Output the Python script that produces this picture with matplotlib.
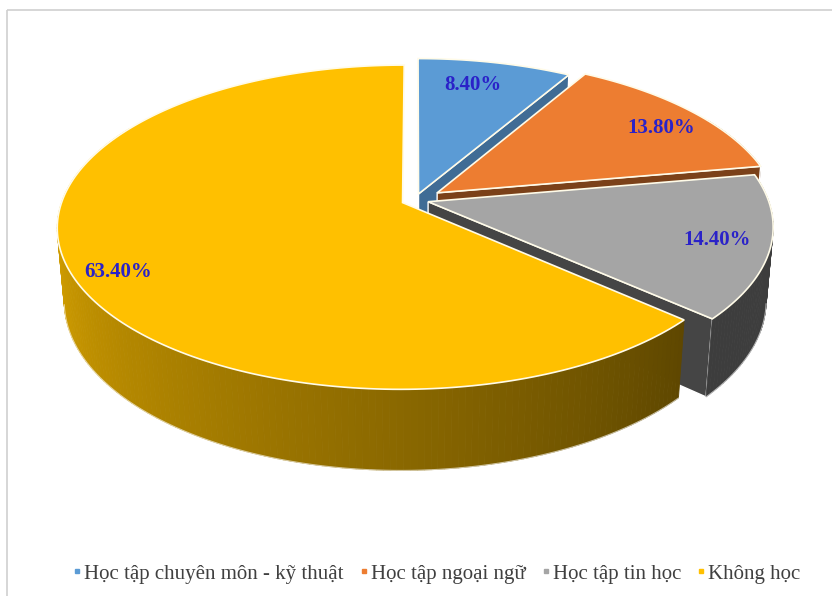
import numpy as np
import matplotlib.pyplot as plt
from matplotlib.patches import Polygon, Rectangle
from matplotlib.lines import Line2D
from matplotlib.colors import to_rgb

plt.rcParams['font.family'] = ['Liberation Serif', 'DejaVu Serif']

labels = ['Học tập chuyên môn - kỹ thuật', 'Học tập ngoại ngữ', 'Học tập tin học', 'Không học']
values = [8.4, 13.8, 14.4, 63.4]
colors = ['#5b9bd5', '#ed7d31', '#a5a5a5', '#ffc000']
explode = [0.04, 0.08, 0.04, 0.04]

# 3d look of the pie
cx, cy = 415, 200
tilt = np.radians(27.6)
dist = 5.85
focal = 1990
thick = 0.245
cut_shade = [0.70, 0.52, 0.42, 0.50]
label_r = [0.80, 0.84, 0.85, 0.88]
label_turn = [-2, 2.5, 0, -3.5]


def project(X, Y, Z):
    yc = Z * np.cos(tilt) + Y * np.sin(tilt)
    zc = dist + Y * np.cos(tilt) - Z * np.sin(tilt)
    return cx + focal * X / zc, cy - focal * yc / zc


def depth(X, Y, Z):
    return np.mean(Y * np.cos(tilt) - Z * np.sin(tilt))


def shade(c, f):
    r, g, b = to_rgb(c)
    return (r * f, g * f, b * f)


def side_factor(deg):
    # lighter on the left, darker towards the right front
    return min(0.88, max(0.37, 0.37 + (deg - 131.76) / 138.24 * 0.49))


fig = plt.figure(figsize=(8.32, 5.96), dpi=100)
ax = fig.add_axes([0, 0, 1, 1])
ax.set_xlim(0, 832)
ax.set_ylim(596, 0)
ax.axis('off')

ax.add_patch(Rectangle((7, 10), 900, 700, fill=False, edgecolor='#d0d0d0', lw=1.2))

total = sum(values)
edges = np.concatenate([[0], np.cumsum(values)]) / total * 360

walls = []
tops = []
for i in range(len(values)):
    a1, a2 = edges[i], edges[i + 1]
    mid = np.radians((a1 + a2) / 2)
    ox, oy = explode[i] * np.sin(mid), explode[i] * np.cos(mid)
    t1, t2 = np.radians(a1), np.radians(a2)

    # top face
    th = np.linspace(t1, t2, 200)
    X = np.concatenate([[ox], ox + np.sin(th)])
    Y = np.concatenate([[oy], oy + np.cos(th)])
    u, v = project(X, Y, np.zeros_like(X))
    tops.append((np.column_stack([u, v]), colors[i]))

    # outer wall, the back part ends up hidden under the top faces
    lo, hi = max(a1, 60), min(a2, 300)
    if hi > lo:
        steps = np.linspace(lo, hi, int(hi - lo) + 2)
        near = 10.0
        for d1, d2 in zip(steps[:-1], steps[1:]):
            tt = np.radians([d1, d2, d2, d1])
            X = ox + np.sin(tt)
            Y = oy + np.cos(tt)
            Z = np.array([0, 0, -thick, -thick])
            u, v = project(X, Y, Z)
            f = side_factor((d1 + d2) / 2)
            dd = depth(X, Y, Z)
            near = min(near, dd)
            walls.append((dd, np.column_stack([u, v]), shade(colors[i], f), None))
        # light rim along the bottom edge
        lo2, hi2 = max(a1, 100), min(a2, 260)
        if hi2 > lo2:
            tt = np.radians(np.linspace(lo2, hi2, 100))
            u, v = project(ox + np.sin(tt), oy + np.cos(tt), -thick * np.ones_like(tt))
            walls.append((near - 0.01, np.column_stack([u, v]), None, 'line'))

    # cut faces
    for t, show in ((t1, np.sin(t1) < -1e-6), (t2, np.sin(t2) > 1e-6)):
        if not show:
            continue
        X = np.array([ox, ox + np.sin(t), ox + np.sin(t), ox])
        Y = np.array([oy, oy + np.cos(t), oy + np.cos(t), oy])
        Z = np.array([0, 0, -thick, -thick])
        u, v = project(X, Y, Z)
        walls.append((depth(X, Y, Z), np.column_stack([u, v]), shade(colors[i], cut_shade[i]), 'white'))

# far walls first
walls.sort(key=lambda w: -w[0])
for d, pts, fc, ec in walls:
    if ec is None:
        ax.add_patch(Polygon(pts, closed=True, facecolor=fc, edgecolor=fc, lw=0.6))
    elif ec == 'line':
        ax.plot(pts[:, 0], pts[:, 1], color='white', lw=0.8, alpha=0.6)
    else:
        ax.add_patch(Polygon(pts, closed=True, facecolor=fc, edgecolor=ec, lw=1.0))

for pts, fc in tops:
    ax.add_patch(Polygon(pts, closed=True, facecolor=fc, edgecolor='#fffbe8', lw=1.2))

# percentage labels
for i in range(len(values)):
    mid = np.radians((edges[i] + edges[i + 1]) / 2 + label_turn[i])
    X = (explode[i] + label_r[i]) * np.sin(mid)
    Y = (explode[i] + label_r[i]) * np.cos(mid)
    u, v = project(X, Y, 0.0)
    ax.text(u, v, '%.2f%%' % values[i], ha='center', va='center', fontsize=15,
            fontweight='bold', color='#2a22c8')

handles = [Line2D([], [], marker='s', ls='none', markersize=3.5, color=c) for c in colors]
ax.legend(handles, labels, loc='center', bbox_to_anchor=(0.525, 0.037), ncol=4, frameon=False,
          handlelength=0.4, handletextpad=0.15, columnspacing=0.75, labelcolor='#404040',
          fontsize=15)

fig.savefig('out.png', dpi=100)
